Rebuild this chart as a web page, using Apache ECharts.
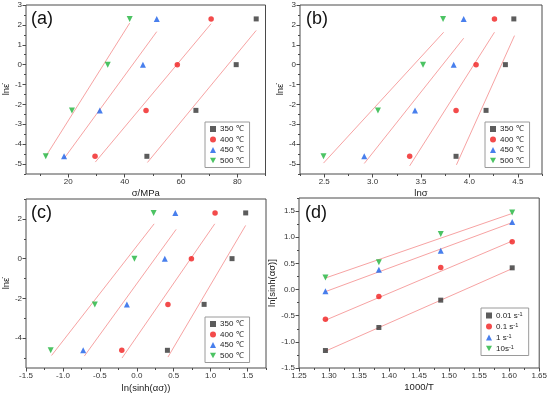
<!DOCTYPE html>
<html><head><meta charset="utf-8">
<script src="https://cdn.jsdelivr.net/npm/echarts@6/dist/echarts.min.js"></script>
<style>html,body{margin:0;padding:0;background:#fff}#c{width:550px;height:396px}</style>
</head><body><div id="c"></div><script>
// ---- data ----
const lnStrainRate = [-4.61, -2.30, 0, 2.30];           // ln(0.01), ln(0.1), ln(1), ln(10)
const tempNames = ['350 ℃', '400 ℃', '450 ℃', '500 ℃'];
const rateNames = ['0.01 s-1', '0.1 s-1', '1 s-1', '10s-1'];

// (a) flow stress σ / MPa
const sig350 = [47.9, 65.3, 79.6, 86.7];
const sig400 = [29.5, 47.6, 58.7, 70.7];
const sig450 = [18.5, 31.2, 46.5, 51.4];
const sig500 = [12.0, 21.3, 34.0, 41.8];
// (b) ln σ
const lnSig350 = [3.862, 4.172, 4.372, 4.459];
const lnSig400 = [3.383, 3.862, 4.069, 4.259];
const lnSig450 = [2.914, 3.438, 3.838, 3.941];
const lnSig500 = [2.493, 3.055, 3.521, 3.728];
// (c) ln(sinh(ασ))
const lnSinh350 = [0.415, 0.912, 1.290, 1.475];
const lnSinh400 = [-0.203, 0.422, 0.740, 1.060];
const lnSinh450 = [-0.726, -0.134, 0.380, 0.522];
const lnSinh500 = [-1.166, -0.568, -0.032, 0.228];
// (d) 1000/T for 350,400,450,500 ℃
const invT = [1.605, 1.486, 1.383, 1.294];

// fitted lines (end points)
const fitA350 = [[48.1, -4.92], [86.7, 1.72]];
const fitA400 = [[29.6, -4.90], [70.7, 2.06]];
const fitA450 = [[18.5, -4.72], [51.4, 1.66]];
const fitA500 = [[12.2, -4.57], [41.8, 2.09]];
const fitB350 = [[3.866, -5.04], [4.466, 1.46]];
const fitB400 = [[3.383, -5.09], [4.259, 1.63]];
const fitB450 = [[2.914, -4.97], [3.941, 1.33]];
const fitB500 = [[2.493, -4.95], [3.734, 1.63]];
const fitC350 = [[0.422, -4.95], [1.474, 1.67]];
const fitC400 = [[-0.200, -5.00], [1.056, 1.75]];
const fitC450 = [[-0.710, -4.90], [0.533, 1.47]];
const fitC500 = [[-1.154, -4.87], [0.235, 1.75]];
const fitD001 = [[1.294, -1.178], [1.605, 0.400]];
const fitD01  = [[1.294, -0.586], [1.605, 0.927]];
const fitD1   = [[1.294, -0.040], [1.605, 1.280]];
const fitD10  = [[1.294, 0.220], [1.605, 1.455]];

// tick labels
const ticksAx = [20, 40, 60, 80], minorAx = [10, 30, 50, 70, 90];
const ticksAy = [-5, -4, -3, -2, -1, 0, 1, 2, 3];
const minorAy = [-5.5, -4.5, -3.5, -2.5, -1.5, -0.5, 0.5, 1.5, 2.5];
const ticksBx = [2.5, 3.0, 3.5, 4.0, 4.5], minorBx = [2.25, 2.75, 3.25, 3.75, 4.25, 4.75];
const ticksCx = [-1.5, -1.0, -0.5, 0.0, 0.5, 1.0, 1.5], minorCx = [-1.25, -0.75, -0.25, 0.25, 0.75, 1.25, 1.75];
const ticksCy = [-4, -2, 0, 2], minorCy = [-5, -3, -1, 1, 3];
const ticksDx = [1.25, 1.30, 1.35, 1.40, 1.45, 1.50, 1.55, 1.60, 1.65];
const minorDx = [1.275, 1.325, 1.375, 1.425, 1.475, 1.525, 1.575, 1.625];
const ticksDy = [-1.5, -1.0, -0.5, 0.0, 0.5, 1.0, 1.5];
const minorDy = [-1.25, -0.75, -0.25, 0.25, 0.75, 1.25, 1.75];

// ---- styles ----
const colors = ['#333333', '#f01e1e', '#1a5fe8', '#1fb43c'];
const invTri = 'path://M0,0L10,0L5,9Z';
const symbols = ['rect', 'circle', 'triangle', invTri];
const symSizes = [5, 5.5, 6, 6];
const FONT = 'Liberation Sans, Arial, sans-serif';
const fitColor = '#f7a3a3';

const grids = [
  {left: 23.5, top: 5, width: 242, height: 169},
  {left: 300, top: 5, width: 242, height: 169},
  {left: 24, top: 199, width: 242, height: 169},
  {left: 299, top: 198, width: 243, height: 170}
].map(g => Object.assign(g, {show: true, borderColor: '#4a4a4a', borderWidth: 1, backgroundColor: 'transparent'}));

const xAxes = [], yAxes = [];
function addAxes(list, g, min, max, ticks, minors, name, nameGap, fmt, isY) {
  const pos = isY ? 'left' : 'bottom';
  list.push({
    type: 'value', gridIndex: g, min, max, name, nameLocation: 'middle', nameGap, position: pos,
    nameTextStyle: {fontSize: 9.5, color: '#222', fontFamily: FONT},
    axisLine: {show: false, onZero: false}, splitLine: {show: false},
    axisTick: {show: true, customValues: ticks, length: 3.5, lineStyle: {color: '#4a4a4a'}},
    axisLabel: {customValues: ticks, fontSize: 8, color: '#333', fontFamily: FONT, margin: 4, formatter: fmt}
  });
  list.push({
    type: 'value', gridIndex: g, min, max, position: pos, offset: 0,
    axisLine: {show: false, onZero: false}, splitLine: {show: false}, axisLabel: {show: false},
    axisTick: {show: true, customValues: minors, length: 2, lineStyle: {color: '#4a4a4a'}}
  });
}
const f0 = v => String(v), f1 = v => v.toFixed(1), f2 = v => v.toFixed(2);
addAxes(xAxes, 0, 5, 90, ticksAx, minorAx, 'σ/MPa', 14, f0, false);
addAxes(yAxes, 0, -5.5, 3, ticksAy, minorAy, 'lnε̇', 11, f0, true);
addAxes(xAxes, 1, 2.25, 4.75, ticksBx, minorBx, 'lnσ', 14, f1, false);
addAxes(yAxes, 1, -5.5, 3, ticksAy, minorAy, 'lnε̇', 11, f0, true);
addAxes(xAxes, 2, -1.5, 1.75, ticksCx, minorCx, 'ln(sinh(ασ))', 15, f1, false);
addAxes(yAxes, 2, -5.5, 3, ticksCy, minorCy, 'lnε̇', 11, f0, true);
addAxes(xAxes, 3, 1.25, 1.65, ticksDx, minorDx, '1000/T', 14, f2, false);
addAxes(yAxes, 3, -1.5, 1.75, ticksDy, minorDy, 'ln[sinh(ασ)]', 16, f1, true);

const series = [];
function pts(xs, ys) { return xs.map((x, i) => [x, ys[i]]); }
function addScatter(g, name, data, k) {
  series.push({type: 'scatter', name, xAxisIndex: 2 * g, yAxisIndex: 2 * g, data,
    symbol: symbols[k], symbolSize: symSizes[k], itemStyle: {color: colors[k]}, z: 3});
}
function addFit(g, data) {
  series.push({type: 'line', xAxisIndex: 2 * g, yAxisIndex: 2 * g, data, symbol: 'none', silent: true,
    lineStyle: {color: fitColor, width: 1}, z: 2});
}
[fitA350, fitA400, fitA450, fitA500].forEach(d => addFit(0, d));
[fitB350, fitB400, fitB450, fitB500].forEach(d => addFit(1, d));
[fitC350, fitC400, fitC450, fitC500].forEach(d => addFit(2, d));
[fitD001, fitD01, fitD1, fitD10].forEach(d => addFit(3, d));

[sig350, sig400, sig450, sig500].forEach((xs, k) => addScatter(0, tempNames[k], pts(xs, lnStrainRate), k));
[lnSig350, lnSig400, lnSig450, lnSig500].forEach((xs, k) => addScatter(1, tempNames[k], pts(xs, lnStrainRate), k));
const lnSinhAll = [lnSinh350, lnSinh400, lnSinh450, lnSinh500];
lnSinhAll.forEach((xs, k) => addScatter(2, tempNames[k], pts(xs, lnStrainRate), k));
// (d): for each strain rate, values across temperatures
rateNames.forEach((name, r) => addScatter(3, name, pts(invT, lnSinhAll.map(a => a[r])), r));

function legendAt(left, top, names, rich) {
  const l = {
    orient: 'vertical', left, top, itemWidth: 6, itemHeight: 6, itemGap: 2.5,
    padding: [3, 6, 3, 5], borderColor: '#9a9a9a', borderWidth: 1, backgroundColor: '#fff',
    selectedMode: false,
    textStyle: {fontSize: 8, color: '#222', fontFamily: FONT, padding: [0, 0, 0, -1]},
    data: names.map((n, k) => ({name: n, icon: symbols[k]}))
  };
  if (rich) {
    l.formatter = n => { const m = n.match(/^(.*s)(-1)$/); return '{b|' + m[1] + '}{s|' + m[2] + '}'; };
    l.textStyle.rich = {b: {fontSize: 8, fontFamily: FONT, color: '#222'}, s: {fontSize: 5.5, fontFamily: FONT, color: '#222', verticalAlign: 'top', padding: [0, 0, 3, 0]}};
  }
  return l;
}

const labelText = (t, x, y) => ({type: 'text', left: x, top: y, style: {text: t, font: '18px ' + FONT, fill: '#111'}});

const chart = echarts.init(document.getElementById('c'), null, {renderer: 'canvas'});
chart.setOption({
  animation: false,
  backgroundColor: '#fff',
  grid: grids, xAxis: xAxes, yAxis: yAxes, series,
  legend: [
    legendAt(205, 122, tempNames),
    legendAt(485, 122, tempNames),
    legendAt(205, 317, tempNames),
    legendAt(481, 308, rateNames, true)
  ],
  graphic: [labelText('(a)', 31, 10), labelText('(b)', 306, 10), labelText('(c)', 31, 204), labelText('(d)', 305, 204)]
});
</script></body></html>
